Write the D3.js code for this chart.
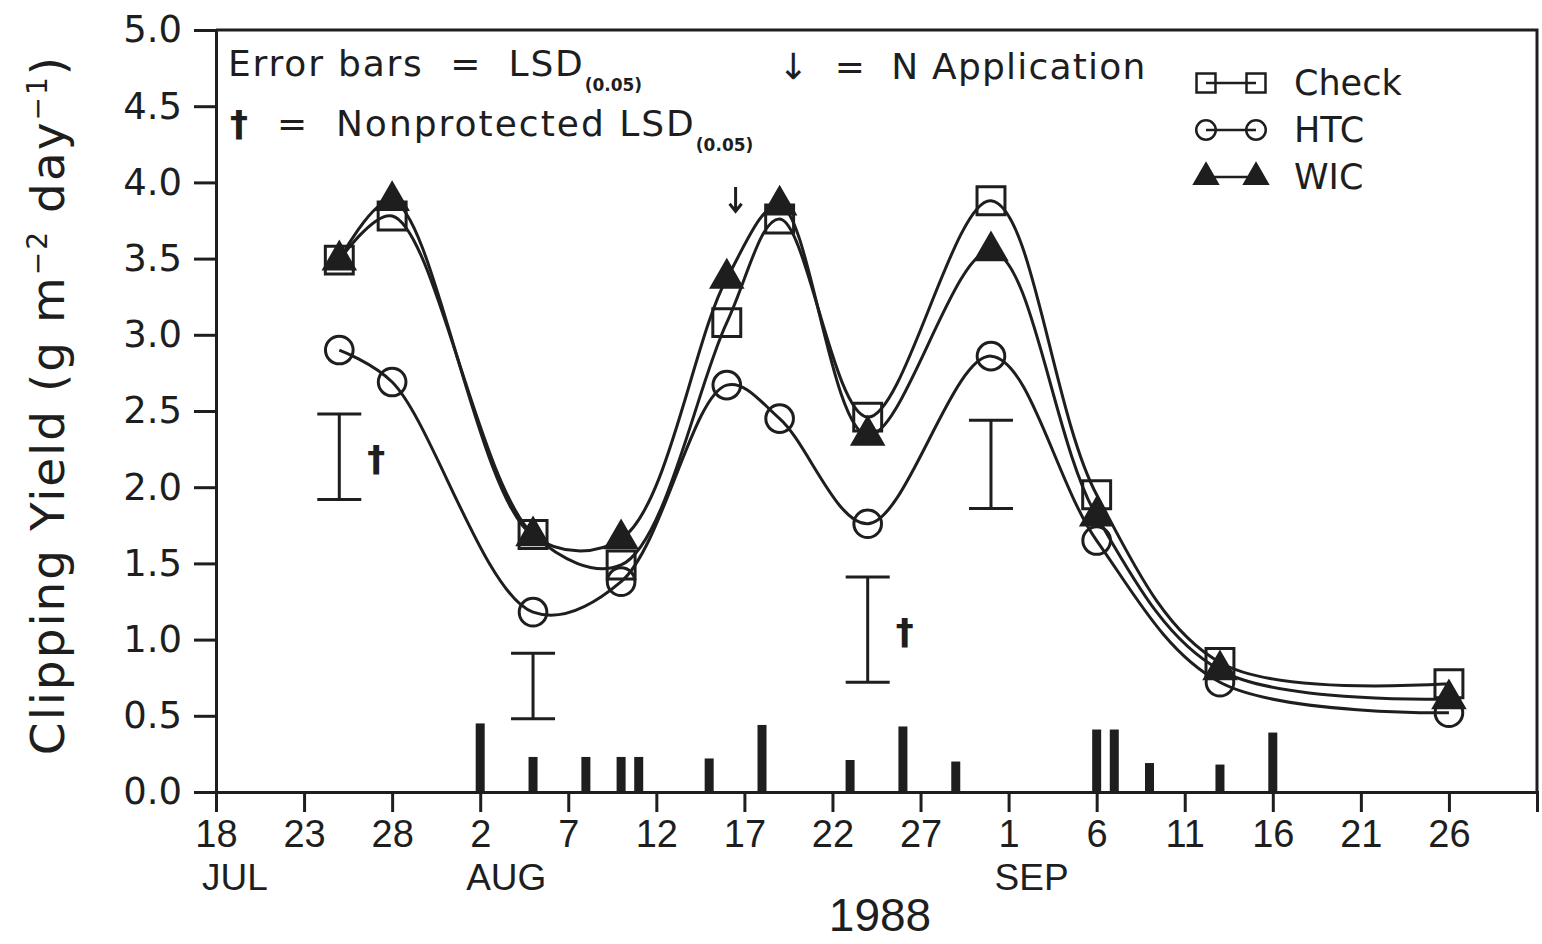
<!DOCTYPE html>
<html>
<head>
<meta charset="utf-8">
<script src="https://cdn.jsdelivr.net/npm/d3@7"></script>
<style>
  body { margin: 0; background: #fff; }
  svg { display: block; }
  .note { font-family: "DejaVu Sans", sans-serif; fill: #1e1e1e; white-space: pre; }
</style>
</head>
<body>
<div id="chart"></div>
<script>
// clipping dates and yields (g m-2 day-1)
const sampleDates = ["1988-07-25", "1988-07-28", "1988-08-05", "1988-08-10", "1988-08-16", "1988-08-19",
                     "1988-08-24", "1988-08-31", "1988-09-06", "1988-09-13", "1988-09-26"];
const checkYield = [3.49, 3.78, 1.69, 1.49, 3.08, 3.76, 2.46, 3.88, 1.95, 0.85, 0.71];
const htcYield   = [2.90, 2.69, 1.18, 1.38, 2.67, 2.45, 1.76, 2.86, 1.65, 0.72, 0.52];
const wicYield   = [3.49, 3.88, 1.68, 1.66, 3.37, 3.85, 2.34, 3.55, 1.81, 0.80, 0.61];

// LSD(0.05) error bars
const lsdDates = ["1988-07-25", "1988-08-05", "1988-08-24", "1988-08-31"];
const lsdLow   = [1.92, 0.48, 0.72, 1.86];
const lsdHigh  = [2.48, 0.91, 1.41, 2.44];
const lsdNonprotected = [true, false, true, false];

// water events drawn as bars along the bottom
const eventDates = ["1988-08-02", "1988-08-05", "1988-08-08", "1988-08-10", "1988-08-11", "1988-08-15",
                    "1988-08-18", "1988-08-23", "1988-08-26", "1988-08-29", "1988-09-06", "1988-09-07",
                    "1988-09-09", "1988-09-13", "1988-09-16"];
const eventAmounts = [0.45, 0.23, 0.23, 0.23, 0.23, 0.22, 0.44, 0.21, 0.43, 0.20, 0.41, 0.41, 0.19, 0.18, 0.39];

// N application
const nApplicationDates = ["1988-08-16T12:00"];

const yTicks = [0, 0.5, 1, 1.5, 2, 2.5, 3, 3.5, 4, 4.5, 5];
const monthLabels = [
  { date: "1988-07-18", label: "JUL" },
  { date: "1988-08-02", label: "AUG" },
  { date: "1988-09-01", label: "SEP" }
];

const ink = '#1e1e1e';
const parse = d3.timeParse('%Y-%m-%d');
const parseT = d3.timeParse('%Y-%m-%dT%H:%M');

const width = 1542, height = 944;
const plotLeft = 216, plotRight = 1537, plotTop = 30, plotBottom = 792;

const svg = d3.select('#chart').append('svg')
    .attr('width', width)
    .attr('height', height);

svg.append('rect').attr('width', width).attr('height', height).attr('fill', '#fff');

const x = d3.scaleTime()
    .domain([parse("1988-07-18"), parse("1988-10-01")])
    .range([plotLeft, plotRight]);

const y = d3.scaleLinear()
    .domain([0, 5])
    .range([plotBottom, plotTop]);

// frame (top and right)
svg.append('path')
    .attr('d', `M${plotLeft},${plotTop}H${plotRight}V${plotBottom}`)
    .attr('fill', 'none')
    .attr('stroke', ink)
    .attr('stroke-width', 3);

// y axis
const yAxis = svg.append('g')
    .attr('transform', `translate(${plotLeft},0)`)
    .call(d3.axisLeft(y).tickValues(yTicks).tickFormat(d3.format('.1f')).tickSize(22).tickPadding(12));
yAxis.select('.domain').attr('stroke', ink).attr('stroke-width', 3);
yAxis.selectAll('.tick line').attr('stroke', ink).attr('stroke-width', 3);
yAxis.selectAll('.tick text')
    .attr('fill', ink)
    .style('font-family', '"DejaVu Sans", sans-serif')
    .style('font-size', '37px');

// x axis
const xTickDates = d3.timeDay.range(parse("1988-07-18"), parse("1988-09-27"), 5);
const xAxis = svg.append('g')
    .attr('transform', `translate(0,${plotBottom})`)
    .call(d3.axisBottom(x).tickValues(xTickDates).tickFormat(d3.timeFormat('%-d')).tickSize(20).tickPadding(8));
xAxis.select('.domain').attr('stroke', ink).attr('stroke-width', 3);
xAxis.selectAll('.tick line').attr('stroke', ink).attr('stroke-width', 3);
xAxis.selectAll('.tick text')
    .attr('fill', ink)
    .style('font-family', '"Liberation Sans", sans-serif')
    .style('font-size', '38px');

svg.selectAll('.month')
  .data(monthLabels)
  .enter()
  .append('text')
    .attr('class', 'month')
    .attr('x', d => x(parse(d.date)) - 14)
    .attr('y', 890)
    .attr('fill', ink)
    .style('font-family', '"Liberation Sans", sans-serif')
    .style('font-size', '37px')
    .text(d => d.label);

svg.append('text')
    .attr('x', 880)
    .attr('y', 931)
    .attr('text-anchor', 'middle')
    .attr('fill', ink)
    .style('font-family', '"Liberation Sans", sans-serif')
    .style('font-size', '46px')
    .text('1988');

// y axis title
const yTitle = svg.append('text')
    .attr('class', 'note')
    .attr('transform', 'translate(64,405) rotate(-90)')
    .attr('text-anchor', 'middle')
    .style('font-size', '47px')
    .style('letter-spacing', '2px');
yTitle.append('tspan').text('Clipping Yield (g m');
yTitle.append('tspan').attr('dy', -17).style('font-size', '28px').text('\u22122');
yTitle.append('tspan').attr('dy', 17).text(' day');
yTitle.append('tspan').attr('dy', -17).style('font-size', '28px').text('\u22121');
yTitle.append('tspan').attr('dy', 17).text(')');

// water event bars
svg.selectAll('.event')
  .data(eventDates.map((d, i) => ({ date: parse(d), value: eventAmounts[i] })))
  .enter()
  .append('rect')
    .attr('class', 'event')
    .attr('x', d => x(d.date) - 4.5)
    .attr('y', d => y(d.value))
    .attr('width', 9)
    .attr('height', d => y(0) - y(d.value))
    .attr('fill', ink);

// LSD bars
const lsd = lsdDates.map((d, i) => ({ date: parse(d), lo: lsdLow[i], hi: lsdHigh[i], np: lsdNonprotected[i] }));
const lsdG = svg.selectAll('.lsd')
  .data(lsd)
  .enter()
  .append('g')
    .attr('class', 'lsd');
lsdG.append('path')
    .attr('d', d => {
      const cx = x(d.date), y0 = y(d.lo), y1 = y(d.hi);
      return `M${cx - 22},${y1}H${cx + 22}M${cx},${y1}V${y0}M${cx - 22},${y0}H${cx + 22}`;
    })
    .attr('fill', 'none')
    .attr('stroke', ink)
    .attr('stroke-width', 3);
lsdG.filter(d => d.np)
  .append('text')
    .attr('class', 'note')
    .attr('x', d => x(d.date) + 28)
    .attr('y', d => y((d.lo + d.hi) / 2) + 14)
    .style('font-size', '36px')
    .style('font-weight', 'bold')
    .text('\u2020');

// curves
const series = [
  { name: 'Check', values: checkYield, marker: 'square' },
  { name: 'HTC', values: htcYield, marker: 'circle' },
  { name: 'WIC', values: wicYield, marker: 'triangle' }
];
const line = d3.line()
    .x(d => x(d.date))
    .y(d => y(d.value))
    .curve(d3.curveCatmullRom.alpha(0.5));

const symbolFor = {
  square: d3.symbol().type(d3.symbolSquare).size(780),
  circle: d3.symbol().type(d3.symbolCircle).size(600),
  triangle: d3.symbol().type(d3.symbolTriangle).size(400)
};
const legendSymbolFor = {
  square: d3.symbol().type(d3.symbolSquare).size(360),
  circle: d3.symbol().type(d3.symbolCircle).size(300),
  triangle: d3.symbol().type(d3.symbolTriangle).size(230)
};

series.forEach(s => {
  const pts = sampleDates.map((d, i) => ({ date: parse(d), value: s.values[i] }));
  svg.append('path')
      .datum(pts)
      .attr('d', line)
      .attr('fill', 'none')
      .attr('stroke', ink)
      .attr('stroke-width', 3);
  svg.selectAll(`.pt-${s.name}`)
    .data(pts)
    .enter()
    .append('path')
      .attr('class', `pt-${s.name}`)
      .attr('transform', d => `translate(${x(d.date)},${y(d.value)})`)
      .attr('d', symbolFor[s.marker]())
      .attr('fill', s.marker === 'triangle' ? ink : 'none')
      .attr('stroke', ink)
      .attr('stroke-width', 3);
});

// N application arrow
nApplicationDates.forEach(d => {
  const ax = x(parseT(d));
  svg.append('path')
      .attr('d', `M${ax},${y(3.97)}V${y(3.81)}M${ax - 6},${y(3.86)}L${ax},${y(3.81)}L${ax + 6},${y(3.86)}`)
      .attr('fill', 'none')
      .attr('stroke', ink)
      .attr('stroke-width', 3);
});

// notes
const n1 = svg.append('text').attr('class', 'note')
    .attr('x', 228).attr('y', 76)
    .style('font-size', '36px').style('letter-spacing', '1.8px');
n1.append('tspan').text('Error bars  =  LSD');
n1.append('tspan').attr('dy', 15).style('font-size', '17px').style('font-weight', 'bold').style('letter-spacing', '0px').text('(0.05)');

svg.append('text').attr('class', 'note')
    .attr('x', 778).attr('y', 79)
    .style('font-size', '36px').style('letter-spacing', '1.2px')
    .text('\u2193  =  N Application');

const n2 = svg.append('text').attr('class', 'note')
    .attr('x', 230).attr('y', 136)
    .style('font-size', '36px').style('letter-spacing', '2px');
n2.append('tspan').style('font-weight', 'bold').text('\u2020');
n2.append('tspan').text('  =  Nonprotected LSD');
n2.append('tspan').attr('dy', 15).style('font-size', '17px').style('font-weight', 'bold').style('letter-spacing', '0px').text('(0.05)');

// legend
const legend = svg.append('g').attr('transform', 'translate(1206,83)');
series.forEach((s, i) => {
  const row = legend.append('g').attr('transform', `translate(0,${i * 47})`);
  row.append('line')
      .attr('x1', 0).attr('x2', 50)
      .attr('stroke', ink).attr('stroke-width', 2.5);
  [0, 50].forEach(px => {
    row.append('path')
        .attr('transform', `translate(${px},0)`)
        .attr('d', legendSymbolFor[s.marker]())
        .attr('fill', s.marker === 'triangle' ? ink : 'none')
        .attr('stroke', ink)
        .attr('stroke-width', 2.5);
  });
  row.append('text')
      .attr('class', 'note')
      .attr('x', 88)
      .attr('y', 12)
      .style('font-size', '35px')
      .text(s.name);
});
</script>
</body>
</html>
